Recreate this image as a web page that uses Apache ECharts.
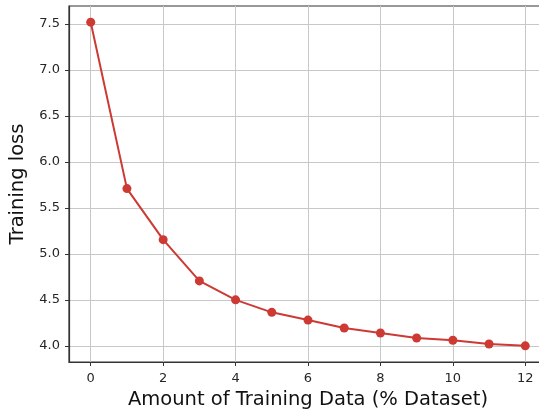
<!DOCTYPE html>
<html>
<head>
<meta charset="utf-8">
<script src="https://cdn.jsdelivr.net/npm/echarts@6/dist/echarts.min.js"></script>
<style>html,body{margin:0;padding:0;background:#fff}#c{width:539px;height:412px}</style>
</head>
<body>
<div id="c"></div>
<script>
const xValues = [0, 1, 2, 3, 4, 5, 6, 7, 8, 9, 10, 11, 12];
const lossValues = [7.52, 5.71, 5.155, 4.706, 4.50, 4.364, 4.28, 4.194, 4.14, 4.085, 4.06, 4.02, 4.0];
const xTicks = [0, 2, 4, 6, 8, 10, 12];
const yTicks = [4.0, 4.5, 5.0, 5.5, 6.0, 6.5, 7.0, 7.5];
const xLabel = 'Amount of Training Data (% Dataset)';
const yLabel = 'Training loss';

const chart = echarts.init(document.getElementById('c'), null, {renderer: 'canvas'});
const font = 'DejaVu Sans';
const spine = '#333333';
const gridColor = '#c8c8c8';
chart.setOption({
  animation: false,
  backgroundColor: '#ffffff',
  grid: {left: 69, top: 6, width: 478, height: 356, outerBoundsMode: 'none', containLabel: false,
         show: true, borderColor: spine, borderWidth: 1.2, backgroundColor: 'transparent'},
  xAxis: {
    type: 'value', min: -0.6, max: 12.6,
    name: xLabel, nameLocation: 'middle', nameGap: 28,
    nameTextStyle: {fontFamily: font, fontSize: 19.5, color: '#111'},
    axisLine: {show: true, onZero: false, lineStyle: {color: spine, width: 1.2}},
    axisTick: {show: true, inside: false, length: 4, customValues: xTicks, lineStyle: {color: spine, width: 1}},
    axisLabel: {customValues: xTicks, fontFamily: font, fontSize: 13, color: '#262626', margin: 10, formatter: v => String(v)},
    splitLine: {show: true, customValues: xTicks, lineStyle: {color: gridColor, width: 1}}
  },
  yAxis: {
    type: 'value', min: 3.824, max: 7.696,
    name: yLabel, nameLocation: 'middle', nameGap: 36, nameRotate: 90,
    nameTextStyle: {fontFamily: font, fontSize: 19.5, color: '#111'},
    axisLine: {show: true, onZero: false, lineStyle: {color: spine, width: 1.2}},
    axisTick: {show: true, inside: false, length: 4, customValues: yTicks, lineStyle: {color: spine, width: 1}},
    axisLabel: {customValues: yTicks, fontFamily: font, fontSize: 13, color: '#262626', margin: 9, formatter: v => v.toFixed(1)},
    splitLine: {show: true, customValues: yTicks, lineStyle: {color: gridColor, width: 1}}
  },
  series: [{
    type: 'line',
    data: xValues.map((x, i) => [x, lossValues[i]]),
    symbol: 'circle', symbolSize: 9,
    itemStyle: {color: '#cc3a33'},
    lineStyle: {color: '#cc3a33', width: 2},
    z: 5
  }]
});
</script>
</body>
</html>
